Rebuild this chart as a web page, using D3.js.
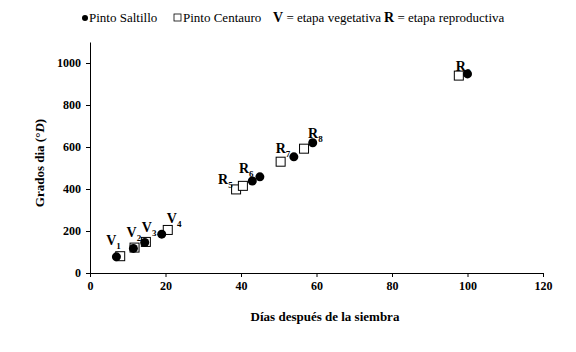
<!DOCTYPE html>
<html>
<head>
<meta charset="utf-8">
<script src="https://cdn.jsdelivr.net/npm/d3@7"></script>
<style>
  body { margin: 0; background: #fff; }
</style>
</head>
<body>
<div id="chart"></div>
<script>
// stages and values
const stages = ["V1", "V2", "V3", "V4", "R5", "R6", "R7", "R8", "R9"];
const saltilloDays = [7, 11.5, 14.5, 19, 43, 45, 54, 59, 100];
const saltilloGD = [77, 117, 145, 185, 438, 458, 553, 620, 948];
const centauroDays = [8, 11.8, 14.8, 20.6, 38.7, 40.5, 50.5, 56.7, 97.7];
const centauroGD = [80, 121, 148, 205, 398, 415, 530, 592, 940];
const xTicks = [0, 20, 40, 60, 80, 100, 120];
const yTicks = [0, 200, 400, 600, 800, 1000];

// label offsets (px) from the Centauro point of each stage
const labelOffsets = [[-14, -11], [-8, -11], [-4, -10], [-1, -7], [-18, -5], [-4, -13], [-5, -9], [4, -11], [-3, -5]];

const FONT = "'Liberation Serif', 'Times New Roman', serif";
const W = 576, H = 352;
const svg = d3.select("#chart").append("svg")
    .attr("width", W).attr("height", H)
    .attr("font-family", FONT);

const x = d3.scaleLinear().domain([0, 120]).range([90, 543]);
const y = d3.scaleLinear().domain([0, 1100]).range([273, 42]);

// =========================
// AXES
// =========================
const xAxis = svg.append("g")
    .attr("transform", `translate(0,${y(0)})`)
    .call(d3.axisBottom(x).tickValues(xTicks).tickFormat(d3.format("d"))
        .tickSize(4).tickSizeOuter(0).tickPadding(4));
const yAxis = svg.append("g")
    .attr("transform", `translate(${x(0)},0)`)
    .call(d3.axisLeft(y).tickValues(yTicks).tickFormat(d3.format("d"))
        .tickSize(4).tickSizeOuter(0).tickPadding(5));

[xAxis, yAxis].forEach(g => {
    g.attr("font-family", FONT).attr("font-size", 12);
    g.select(".domain").attr("stroke", "#000").attr("stroke-width", 1);
    g.selectAll(".tick line").attr("stroke", "#000");
    g.selectAll(".tick text")
        .attr("fill", "#000")
        .attr("font-weight", "bold");
});

// =========================
// POINTS
// =========================
const sq = 9;
svg.append("g").selectAll("rect")
    .data(centauroDays.map((d, i) => [d, centauroGD[i]]))
    .join("rect")
    .attr("x", d => x(d[0]) - sq / 2)
    .attr("y", d => y(d[1]) - sq / 2)
    .attr("width", sq).attr("height", sq)
    .attr("fill", "#fff").attr("stroke", "#000").attr("stroke-width", 1);

svg.append("g").selectAll("circle")
    .data(saltilloDays.map((d, i) => [d, saltilloGD[i]]))
    .join("circle")
    .attr("cx", d => x(d[0]))
    .attr("cy", d => y(d[1]))
    .attr("r", 4.5)
    .attr("fill", "#000");

// =========================
// STAGE LABELS
// =========================
stages.forEach((s, i) => {
    const t = svg.append("text")
        .attr("x", x(centauroDays[i]) + labelOffsets[i][0])
        .attr("y", y(centauroGD[i]) + labelOffsets[i][1])
        .attr("font-size", 14)
        .attr("font-weight", "bold");
    t.append("tspan").text(s[0]);
    t.append("tspan").attr("dy", 4).attr("font-size", 9).text(s.slice(1));
});

// =========================
// AXIS TITLES
// =========================
svg.append("text")
    .attr("x", 325).attr("y", 321)
    .attr("text-anchor", "middle")
    .attr("font-size", 13).attr("font-weight", "bold")
    .text("Días después de la siembra");

const yl = svg.append("text")
    .attr("transform", "translate(44,163) rotate(-90)")
    .attr("text-anchor", "middle")
    .attr("font-size", 13).attr("font-weight", "bold");
yl.append("tspan").text("Grados dia (°");
yl.append("tspan").attr("font-style", "italic").text("D");
yl.append("tspan").text(")");

// =========================
// LEGEND
// =========================
const lg = svg.append("g").attr("transform", "translate(0,22)").attr("font-size", 13);
lg.append("circle").attr("cx", 85).attr("cy", -4).attr("r", 3).attr("fill", "#000");
lg.append("text").attr("x", 89).attr("y", 0).text("Pinto Saltillo");
lg.append("rect").attr("x", 174).attr("y", -8).attr("width", 7).attr("height", 7)
    .attr("fill", "#fff").attr("stroke", "#000").attr("stroke-width", 0.8);
lg.append("text").attr("x", 183).attr("y", 0).text("Pinto Centauro");
const lv = lg.append("text").attr("x", 273).attr("y", 0);
lv.append("tspan").attr("font-weight", "bold").attr("font-size", 14).text("V");
lv.append("tspan").text(" = etapa vegetativa");
const lr = lg.append("text").attr("x", 384).attr("y", 0);
lr.append("tspan").attr("font-weight", "bold").attr("font-size", 14).text("R");
lr.append("tspan").text(" = etapa reproductiva");
</script>
</body>
</html>
